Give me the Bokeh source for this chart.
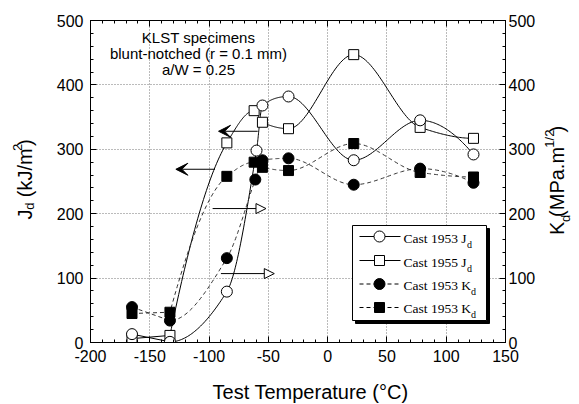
import numpy as np
from bokeh.plotting import figure
from bokeh.layouts import row, column
from bokeh.models import (Range1d, LinearAxis, SingleIntervalTicker, Label,
                          Arrow, NormalHead, VeeHead, PrintfTickFormatter)
from bokeh.embed import file_html
from bokeh.resources import INLINE

# ---------------- data ----------------
temp_1953_J = [-165, -133, -85, -60, -55, -33, 22, 78, 123]
J_1953 = [13, 1, 79, 298, 368, 382, 283, 345, 292]

temp_1955_J = [-165, -133, -85, -62, -55, -33, 22, 78, 123]
J_1955 = [6, 11, 310, 360, 342, 332, 447, 334, 317]

temp_1953_K = [-165, -133, -85, -61, -55, -33, 22, 78, 123]
K_1953 = [55, 34, 131, 253, 283, 286, 245, 270, 248]

temp_1953b_K = [-165, -133, -85, -62, -55, -33, 22, 78, 123]
K_1953b = [45, 47, 258, 280, 272, 267, 309, 264, 257]

# arrows pointing to the axis each curve belongs to
arrow_left_from = [-59, -95]
arrow_left_to = [-92, -128]
arrow_left_y = [328, 269]
arrow_right_from = [-97, -90]
arrow_right_to = [-52, -45]
arrow_right_y = [208, 107]

legend_labels = ["Cast 1953 J", "Cast 1955 J", "Cast 1953 K", "Cast 1953 K"]
note_lines = ["KLST specimens", "blunt-notched (r = 0.1 mm)", "a/W = 0.25"]

# ---------------- layout (page pixels) ----------------
W, H = 579, 404
X0, X1 = -200, 150
Y0, Y1 = 0, 500
FL, FR, FT, FB = 90, 505, 20, 342          # frame edges
LW, RW, BH = 40, 38, 32                     # side strips for axis titles
MW, MH = W - LW - RW, H - BH


def tx(xp):   # page pixel x -> data x
    return (xp - FL) * (X1 - X0) / (FR - FL) + X0


def ty(yp):   # page pixel y -> data y
    return (FB - yp) * (Y1 - Y0) / (FB - FT) + Y0


def curve(xs, ys, n=40):
    """straight lower-shelf segment, then a monotone cubic (PCHIP) through the rest"""
    x = np.asarray(xs[1:], float)
    y = np.asarray(ys[1:], float)
    h = np.diff(x)
    d = np.diff(y) / h
    m = np.zeros_like(x)
    for k in range(1, len(x) - 1):
        if d[k - 1] * d[k] > 0:
            w1 = 2 * h[k] + h[k - 1]
            w2 = h[k] + 2 * h[k - 1]
            m[k] = (w1 + w2) / (w1 / d[k - 1] + w2 / d[k])

    def edge(h0, h1, d0, d1):
        v = ((2 * h0 + h1) * d0 - h0 * d1) / (h0 + h1)
        if np.sign(v) != np.sign(d0):
            return 0.0
        if np.sign(d0) != np.sign(d1) and abs(v) > abs(3 * d0):
            return 3 * d0
        return v

    m[0] = edge(h[0], h[1], d[0], d[1])
    m[-1] = edge(h[-1], h[-2], d[-1], d[-2])
    ox, oy = [xs[0]], [ys[0]]
    for k in range(len(x) - 1):
        t = np.linspace(0, 1, n)
        h00 = 2 * t**3 - 3 * t**2 + 1
        h10 = t**3 - 2 * t**2 + t
        h01 = -2 * t**3 + 3 * t**2
        h11 = t**3 - t**2
        yy = h00 * y[k] + h10 * h[k] * m[k] + h01 * y[k + 1] + h11 * h[k] * m[k + 1]
        xx = x[k] + t * h[k]
        ox.extend(xx.tolist())
        oy.extend(yy.tolist())
    return ox, oy


FONT = "Liberation Sans"
SERIF = "Liberation Serif"

p = figure(width=MW, height=MH, output_backend="svg", toolbar_location=None,
           x_range=Range1d(X0, X1), y_range=Range1d(Y0, Y1),
           min_border_left=FL - LW, min_border_right=LW + MW - FR,
           min_border_top=FT, min_border_bottom=MH - FB,
           x_axis_location=None, y_axis_location=None)
p.extra_y_ranges = {"k": Range1d(0, 500)}
p.background_fill_color = "white"
p.border_fill_color = "white"
p.outline_line_color = "black"
p.outline_line_width = 1


def style_axis(ax, labels=True):
    ax.axis_line_color = "black"
    ax.major_tick_in = 6
    ax.major_tick_out = 0
    ax.minor_tick_in = 3
    ax.minor_tick_out = 0
    ax.major_tick_line_color = "black"
    ax.minor_tick_line_color = "black"
    ax.major_label_text_font = FONT
    ax.formatter = PrintfTickFormatter(format="%d")
    if labels:
        ax.major_label_text_font_size = "16px"
        ax.major_label_text_color = "black"
    else:
        ax.major_label_text_font_size = "8px"
        ax.major_label_text_color = None


xt = SingleIntervalTicker(interval=50, num_minor_ticks=5)
yt = SingleIntervalTicker(interval=100, num_minor_ticks=5)

xb = LinearAxis(ticker=xt)
style_axis(xb)
xb.major_label_standoff = 7
p.add_layout(xb, "below")

xa = LinearAxis(ticker=SingleIntervalTicker(interval=50, num_minor_ticks=5))
style_axis(xa, labels=False)
xa.major_label_standoff = 0
p.add_layout(xa, "above")

yl = LinearAxis(ticker=yt)
style_axis(yl)
yl.major_label_standoff = 7
yl.major_label_orientation = "horizontal"
p.add_layout(yl, "left")

yr = LinearAxis(ticker=SingleIntervalTicker(interval=100, num_minor_ticks=5), y_range_name="k")
style_axis(yr)
yr.major_label_standoff = 3
yr.major_label_orientation = "horizontal"
p.add_layout(yr, "right")

p.xgrid.ticker = xt
p.ygrid.ticker = yt
for g in (p.xgrid, p.ygrid):
    g.grid_line_color = "#777777"
    g.grid_line_dash = "1 2"
    g.grid_line_width = 1

# ---------------- curves ----------------
cx, cy = curve(temp_1953_J, J_1953)
p.line(cx, cy, line_color="black", line_width=1)
cx, cy = curve(temp_1955_J, J_1955)
p.line(cx, cy, line_color="black", line_width=1)
cx, cy = curve(temp_1953_K, K_1953)
p.line(cx, cy, line_color="#333333", line_width=1, line_dash="4 3", y_range_name="k")
cx, cy = curve(temp_1953b_K, K_1953b)
p.line(cx, cy, line_color="#333333", line_width=1, line_dash="4 3", y_range_name="k")

MS = 11
p.scatter(temp_1953b_K, K_1953b, marker="square", size=MS - 1, fill_color="black",
          line_color="black", y_range_name="k")
p.scatter(temp_1953_K, K_1953, marker="circle", size=MS, fill_color="black",
          line_color="black", y_range_name="k")
p.scatter(temp_1955_J, J_1955, marker="square", size=MS - 1, fill_color="white",
          line_color="black", line_width=1)
p.scatter(temp_1953_J, J_1953, marker="circle", size=MS, fill_color="white",
          line_color="black", line_width=1)

# ---------------- arrows ----------------
for x0, x1, y in zip(arrow_left_from, arrow_left_to, arrow_left_y):
    p.add_layout(Arrow(end=VeeHead(size=12, fill_color="black", line_color="black"),
                       x_start=x0, y_start=y, x_end=x1, y_end=y,
                       line_color="black", line_width=1))
for x0, x1, y in zip(arrow_right_from, arrow_right_to, arrow_right_y):
    p.add_layout(Arrow(end=NormalHead(size=10, fill_color="white", line_color="black",
                                      line_width=1),
                       x_start=x0, y_start=y, x_end=x1, y_end=y,
                       line_color="black", line_width=1))

# ---------------- note text ----------------
for txt, yc in zip(note_lines, [36.5, 52.5, 68.5]):
    p.add_layout(Label(x=tx(198), y=ty(yc), text=txt, text_align="center",
                       text_baseline="middle", text_font=FONT,
                       text_font_size="15px", text_color="black"))

# ---------------- legend (manual, for subscripts) ----------------
p.quad(left=[tx(355)], right=[tx(489)], top=[ty(228)], bottom=[ty(323)],
       fill_color="black", line_color="black")
p.quad(left=[tx(352)], right=[tx(486)], top=[ty(225)], bottom=[ty(320)],
       fill_color="white", line_color="black", line_width=1)
row_mid = [236, 260, 283.5, 307]
row_text = [238, 262, 285, 307.5]
sub_x = [466.5, 466.5, 470.5, 470.5]
kinds = [("circle", "white", None), ("square", "white", None),
         ("circle", "black", "4 3"), ("square", "black", "4 3")]
for (mk, fc, dash), ym, yc, lab, sxp in zip(kinds, row_mid, row_text, legend_labels, sub_x):
    kw = dict(line_color="black", line_width=1)
    if dash:
        kw["line_dash"] = dash
    p.line([tx(359), tx(400)], [ty(ym), ty(ym)], **kw)
    p.scatter([tx(379)], [ty(ym)], marker=mk, size=MS if mk == "circle" else MS - 1,
              fill_color=fc, line_color="black")
    p.add_layout(Label(x=tx(403), y=ty(yc), text=lab, text_font=SERIF,
                       text_font_size="13.5px", text_baseline="middle",
                       text_color="black"))
    p.add_layout(Label(x=tx(sxp), y=ty(yc + 6), text="d", text_font=SERIF,
                       text_font_size="10px", text_baseline="middle",
                       text_color="black"))


# ---------------- axis titles in thin strips (page-pixel ranges) ----------------
def strip(w, h, xr, yr):
    f = figure(width=w, height=h, output_backend="svg", toolbar_location=None,
               x_range=Range1d(*xr), y_range=Range1d(*yr), min_border=0,
               x_axis_location=None, y_axis_location=None)
    f.outline_line_color = None
    f.xgrid.visible = False
    f.ygrid.visible = False
    f.background_fill_color = "white"
    f.border_fill_color = "white"
    return f


def lab(f, text, xc, yc, size, angle=0.0):
    f.add_layout(Label(x=xc, y=yc, text=text, text_font=FONT,
                       text_font_size=size, text_align="center",
                       text_baseline="middle", angle=angle, text_color="black"))


A = np.pi / 2
left = strip(LW, MH, (0, LW), (MH, 0))
lab(left, "J", 24, 224, "20px", A)
lab(left, "d", 29, 214.5, "13px", A)
lab(left, "(kJ/m", 24, 176, "20px", A)
lab(left, "2", 16.5, 146.5, "13px", A)
lab(left, ")", 24, 141, "20px", A)

right = strip(RW, MH, (W - RW, W), (MH, 0))
lab(right, "K", 556.5, 240, "20px", A)
lab(right, "d", 565, 228.5, "13px", A)
lab(right, "(MPa.m", 556.5, 186.5, "20px", A)
lab(right, "1/2", 548.5, 136.5, "13px", A)
lab(right, ")", 556.5, 125.5, "20px", A)

bottom = strip(W, BH, (0, W), (H, H - BH))
lab(bottom, "Test Temperature (\u00b0C)", 310, 391, "20px")

layout = column(row(left, p, right), bottom)
open("out.html", "w").write(file_html(layout, INLINE))
